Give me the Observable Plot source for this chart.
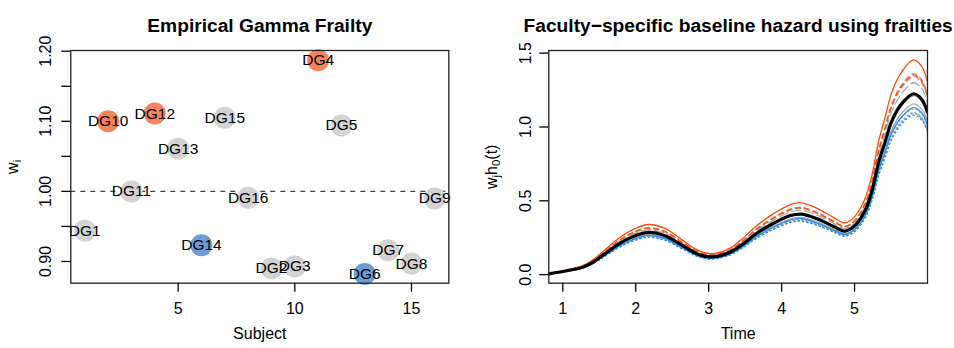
<!DOCTYPE html>
<html>
<head>
<meta charset="utf-8">
<script src="https://cdn.jsdelivr.net/npm/d3@7"></script>
<script src="https://cdn.jsdelivr.net/npm/@observablehq/plot@0.6"></script>
<style>
  body { margin: 0; background: #fff; }
  #wrap { display: flex; width: 954px; height: 348px; }
  svg { font-family: "Liberation Sans", Arial, Helvetica, sans-serif; }
</style>
</head>
<body>
<div id="wrap"></div>
<script>
// ---------- data ----------
const subjectIndex = [1, 2, 3, 4, 5, 6, 7, 8, 9, 10, 11, 12, 13, 14, 15, 16];
const subjectLabels = ["DG1", "DG10", "DG11", "DG12", "DG13", "DG14", "DG15", "DG16",
                       "DG2", "DG3", "DG4", "DG5", "DG6", "DG7", "DG8", "DG9"];
const frailty = [0.944, 1.100, 1.000, 1.111, 1.061, 0.923, 1.105, 0.991,
                 0.890, 0.893, 1.187, 1.094, 0.882, 0.916, 0.897, 0.990];
const frailtyGroup = ["mid", "high", "mid", "high", "mid", "low", "mid", "mid",
                      "mid", "mid", "high", "mid", "low", "mid", "mid", "mid"];

const timeGrid = [0.808, 1.07, 1.26, 1.40, 1.58, 1.76, 1.945, 2.17, 2.40, 2.63, 2.86, 3.03,
                  3.27, 3.45, 3.66, 3.89, 4.12, 4.27, 4.48, 4.71, 4.87, 5.01, 5.15, 5.24,
                  5.33, 5.42, 5.51, 5.65, 5.81, 5.92, 6.00];
const baseHazard = [0.005, 0.028, 0.048, 0.080, 0.142, 0.205, 0.254, 0.286, 0.264, 0.200, 0.137, 0.120,
                    0.146, 0.200, 0.280, 0.348, 0.400, 0.410, 0.380, 0.327, 0.295, 0.335, 0.440, 0.570,
                    0.760, 0.900, 1.040, 1.160, 1.225, 1.188, 1.100];

const leftYTicks = [0.90, 0.95, 1.00, 1.05, 1.10, 1.15, 1.20];
const leftYLabels = [0.90, 1.00, 1.10, 1.20];
const leftXTicks = [5, 10, 15];
const rightYTicks = [0, 0.5, 1.0, 1.5];
const rightXTicks = [1, 2, 3, 4, 5];

// ---------- styles ----------
const FONT = "Liberation Sans, Arial, Helvetica, sans-serif";
const pointFill = {mid: "#D3D3D3", high: "#F5845C", low: "#6D9BD6"};
const lineColor = {mid: "#A8A8A8", high: "#FF4500", low: "#1E90FF"};
const dash = {solid: null, dashed: "5,4", dotted: "1.3,3", longdash: "9,4"};
const curveDash = {
  DG4: "solid", DG12: "dashed", DG10: "dashed", DG15: "dashed", DG5: "dashed",
  DG13: "longdash", DG11: "solid", DG16: "solid", DG9: "solid", DG1: "solid",
  DG14: "solid", DG7: "dotted", DG8: "dotted", DG3: "dotted", DG2: "dotted", DG6: "dotted"
};

const subjects = subjectIndex.map((s, i) => ({
  subject: s, label: subjectLabels[i], w: frailty[i], group: frailtyGroup[i]
}));
const base = timeGrid.map((t, i) => ({t, v: baseHazard[i]}));

const wrap = document.getElementById("wrap");

// ---------- left panel ----------
const left = Plot.plot({
  width: 477, height: 348,
  marginLeft: 70.3, marginRight: 28.7, marginTop: 50, marginBottom: 65.3,
  style: {fontFamily: FONT, fontSize: "16px", background: "#fff"},
  x: {domain: [0.4, 16.6]},
  y: {domain: [0.869, 1.201]},
  marks: [
    Plot.ruleY([1.0], {stroke: "#444", strokeWidth: 1.3, strokeDasharray: "5,5"}),
    Plot.dot(subjects, {x: "subject", y: "w", r: 11, fill: d => pointFill[d.group], stroke: "none"}),
    Plot.text(subjects, {x: "subject", y: "w", text: "label", fontSize: 15.5, fill: "#000"}),
    Plot.frame({stroke: "#222", strokeWidth: 1.3}),
    Plot.axisX({ticks: leftXTicks, tickSize: 9, tickPadding: 10, fontSize: 16, strokeWidth: 1.3, label: null, tickFormat: d => String(d)}),
    Plot.axisY({ticks: leftYTicks, tickSize: 9, tickFormat: () => "", strokeWidth: 1.3, label: null}),
    Plot.text(leftYLabels, {y: d => d, text: d => d.toFixed(2), frameAnchor: "left", textAnchor: "middle", dx: -25, rotate: -90, fontSize: 16}),
    Plot.text(["Empirical Gamma Frailty"], {text: d => d, frameAnchor: "top", dy: -32, fontSize: 19.2, fontWeight: "bold"}),
    Plot.text(["Subject"], {text: d => d, frameAnchor: "bottom", dy: 56, fontSize: 16}),
    Plot.text(["wi"], {text: d => d, frameAnchor: "left", textAnchor: "middle", dx: -58, rotate: -90, fontSize: 16})
  ]
});
wrap.appendChild(left);

// ---------- right panel ----------
const order = ["mid", "low", "high"];
const sortedSubjects = subjects.slice().sort((a, b) => order.indexOf(a.group) - order.indexOf(b.group));
const curveMarks = sortedSubjects.map(s => {
  const rows = timeGrid.map((t, i) => ({t, v: s.w * baseHazard[i]}));
  const st = curveDash[s.label];
  return Plot.line(rows, {
    x: "t", y: "v", curve: "catmull-rom", clip: true,
    stroke: lineColor[s.group], strokeWidth: 1.3,
    strokeOpacity: (s.group === "high" && st !== "solid") ? 0.65 : 1,
    strokeDasharray: dash[st] || undefined
  });
});

const right = Plot.plot({
  width: 477, height: 348,
  marginLeft: 71.3, marginRight: 27, marginTop: 50, marginBottom: 65.3,
  style: {fontFamily: FONT, fontSize: "16px", background: "#fff"},
  x: {domain: [0.808, 6.0]},
  y: {domain: [-0.058, 1.518]},
  marks: [
    ...curveMarks,
    Plot.line(base, {x: "t", y: "v", curve: "catmull-rom", clip: true, stroke: "#000", strokeWidth: 3.2}),
    Plot.frame({stroke: "#222", strokeWidth: 1.3}),
    Plot.axisX({ticks: rightXTicks, tickSize: 9, tickPadding: 10, fontSize: 16, strokeWidth: 1.3, label: null, tickFormat: d => String(d)}),
    Plot.axisY({ticks: rightYTicks, tickSize: 9, tickFormat: () => "", strokeWidth: 1.3, label: null}),
    Plot.text(rightYTicks, {y: d => d, text: d => d.toFixed(1), frameAnchor: "left", textAnchor: "middle", dx: -23, rotate: -90, fontSize: 16}),
    Plot.text(["Faculty\u2212specific baseline hazard using frailties"], {text: d => d, frameAnchor: "top", dy: -32, fontSize: 19.2, fontWeight: "bold"}),
    Plot.text(["Time"], {text: d => d, frameAnchor: "bottom", dy: 56, fontSize: 16}),
    Plot.text(["wjh0(t)"], {text: d => d, frameAnchor: "left", textAnchor: "middle", dx: -57, rotate: -90, fontSize: 16})
  ]
});
wrap.appendChild(right);

// ---------- subscripts in axis titles ----------
function subscript(svg, raw, parts) {
  d3.select(svg).selectAll("text").filter(function () { return this.textContent === raw; })
    .each(function () {
      const t = d3.select(this);
      t.text(null);
      let down = false;
      parts.forEach(([s, sub]) => {
        const ts = t.append("tspan").text(s);
        if (sub) { ts.attr("font-size", "11.5px").attr("dy", "3.5"); down = true; }
        else if (down) { ts.attr("dy", "-3.5"); down = false; }
      });
    });
}
subscript(left, "wi", [["w", false], ["i", true]]);
subscript(right, "wjh0(t)", [["w", false], ["j", true], ["h", false], ["0", true], ["(t)", false]]);
</script>
</body>
</html>
